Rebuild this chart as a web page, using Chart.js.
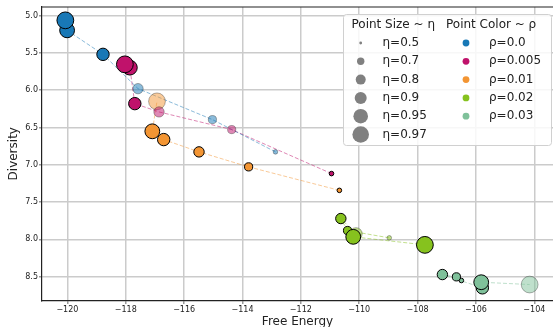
<!DOCTYPE html>
<html><head><meta charset="utf-8">
<script src="https://cdn.jsdelivr.net/npm/chart.js@4.4.1/dist/chart.umd.min.js"></script>
<style>html,body{margin:0;padding:0;background:#fff}#wrap{width:553px;height:327px}</style>
</head><body><div id="wrap"><canvas id="c" width="553" height="327"></canvas></div>
<script>
// ---- data (η ascending within each series) ----
const etaValues = [0.5, 0.7, 0.8, 0.9, 0.95, 0.97];
const rhoLabels = ['0.0', '0.005', '0.01', '0.02', '0.03'];

const rho000X = [-112.87, -115.03, -117.58, -118.78, -120.01, -120.07];
const rho000Y = [6.827, 6.394, 5.979, 5.519, 5.197, 5.063];
const rho000Faded = [1, 1, 1, 0, 0, 0];

const rho005X = [-110.95, -114.37, -116.86, -117.69, -117.86, -118.03];
const rho005Y = [7.118, 6.528, 6.291, 6.180, 5.697, 5.653];
const rho005Faded = [0, 1, 1, 0, 0, 0];

const rho010X = [-110.68, -113.79, -115.49, -116.70, -117.09, -116.93];
const rho010Y = [7.343, 7.028, 6.827, 6.662, 6.551, 6.149];
const rho010Faded = [0, 0, 0, 0, 0, 1];

const rho020X = [-108.97, -110.40, -110.63, -110.11, -110.205, -107.75];
const rho020Y = [7.980, 7.882, 7.721, 7.926, 7.966, 8.074];
const rho020Faded = [1, 0, 0, 1, 0, 0];

const rho030X = [-106.50, -106.67, -107.15, -105.78, -105.82, -104.16];
const rho030Y = [8.552, 8.503, 8.472, 8.650, 8.575, 8.606];
const rho030Faded = [0, 0, 0, 0, 0, 1];

// ---- styling ----
const colors = [[24,120,182],[192,18,107],[243,149,51],[134,194,30],[127,193,154]];
const pointRadius = {0.5: 2.3, 0.7: 4.1, 0.8: 5.2, 0.9: 6.2, 0.95: 7.4, 0.97: 8.4};
const legendRadius = {0.5: 1.4, 0.7: 3.7, 0.8: 5, 0.9: 6, 0.95: 7.3, 0.97: 8.3};
const rgba = (c, a) => `rgba(${c[0]},${c[1]},${c[2]},${a})`;

const seriesX = [rho000X, rho005X, rho010X, rho020X, rho030X];
const seriesY = [rho000Y, rho005Y, rho010Y, rho020Y, rho030Y];
const seriesF = [rho000Faded, rho005Faded, rho010Faded, rho020Faded, rho030Faded];

const datasets = [];
seriesX.forEach((xs, s) => {
  const pts = xs.map((x, i) => ({x, y: seriesY[s][i]}));
  const faded = seriesF[s];
  datasets.push({
    label: 'ρ=' + rhoLabels[s],
    data: pts,
    order: 0,
    showLine: false,
    pointRadius: etaValues.map(e => pointRadius[e]),
    pointBackgroundColor: faded.map(f => f ? rgba(colors[s], 0.5) : rgba(colors[s], 1)),
    pointBorderColor: faded.map(f => f ? 'rgba(0,0,0,0.3)' : 'rgba(0,0,0,1)'),
    pointBorderWidth: 1,
    pointHoverRadius: etaValues.map(e => pointRadius[e])
  });
  datasets.push({
    label: 'line ' + rhoLabels[s],
    data: pts,
    order: 10,
    showLine: true,
    pointRadius: 0,
    borderColor: rgba(colors[s], 0.5),
    borderWidth: 1,
    borderDash: [4, 2],
    fill: false
  });
});

const uminus = v => (v < 0 ? '\u2212' : '') + Math.abs(v);
const FONT = "'DejaVu Sans', sans-serif";

const decorPlugin = {
  id: 'decor',
  afterDraw(chart) {
    const ctx = chart.ctx, a = chart.chartArea;
    ctx.save();
    // top spine
    ctx.strokeStyle = '#222'; ctx.lineWidth = 1.2;
    ctx.beginPath(); ctx.moveTo(a.left, a.top); ctx.lineTo(a.right, a.top); ctx.stroke();
    // legend box
    const bx = 343.5, by = 14.5, bw = 208, bh = 131, r = 3;
    ctx.lineWidth = 1;
    ctx.beginPath();
    ctx.moveTo(bx + r, by); ctx.lineTo(bx + bw - r, by); ctx.quadraticCurveTo(bx + bw, by, bx + bw, by + r);
    ctx.lineTo(bx + bw, by + bh - r); ctx.quadraticCurveTo(bx + bw, by + bh, bx + bw - r, by + bh);
    ctx.lineTo(bx + r, by + bh); ctx.quadraticCurveTo(bx, by + bh, bx, by + bh - r);
    ctx.lineTo(bx, by + r); ctx.quadraticCurveTo(bx, by, bx + r, by);
    ctx.closePath();
    ctx.fillStyle = 'rgba(255,255,255,0.85)'; ctx.fill();
    ctx.strokeStyle = '#d0d0d0'; ctx.stroke();
    ctx.font = '12px ' + FONT;
    ctx.fillStyle = '#222'; ctx.textBaseline = 'middle'; ctx.textAlign = 'left';
    ctx.fillText('Point Size ~ η', 351.5, 25);
    ctx.fillText('Point Color ~ ρ', 446, 25);
    const rowY = i => 43 + i * 18.3;
    etaValues.forEach((e, i) => {
      ctx.beginPath(); ctx.arc(360.7, rowY(i), legendRadius[e], 0, Math.PI * 2);
      ctx.fillStyle = 'rgb(128,128,128)'; ctx.fill();
      ctx.fillStyle = '#222'; ctx.fillText('η=' + e, 382.5, rowY(i));
    });
    rhoLabels.forEach((l, i) => {
      ctx.beginPath(); ctx.arc(466, rowY(i), 3.4, 0, Math.PI * 2);
      ctx.fillStyle = rgba(colors[i], 1); ctx.fill();
      ctx.fillStyle = '#222'; ctx.fillText('ρ=' + l, 489, rowY(i));
    });
    ctx.restore();
  }
};

new Chart(document.getElementById('c'), {
  type: 'scatter',
  data: {datasets},
  options: {
    responsive: false,
    animation: false,
    devicePixelRatio: 1,
    layout: {autoPadding: false, padding: {top: 7, right: 0, left: 0, bottom: 0}},
    plugins: {legend: {display: false}, tooltip: {enabled: false}},
    scales: {
      x: {
        type: 'linear', min: -120.87, max: -103.36,
        afterFit: s => { s.height = 26.5; s.paddingLeft = 0; s.paddingRight = 0; },
        ticks: {stepSize: 2, includeBounds: false, autoSkip: false, maxRotation: 0,
          font: {family: FONT, size: 8}, color: '#222', padding: 1,
          callback: v => uminus(v)},
        grid: {color: '#cbcbcb', lineWidth: 1.5, tickLength: 3.5, tickColor: '#999', drawTicks: true},
        border: {display: true, color: '#222', width: 1.2},
        title: {display: true, text: 'Free Energy', color: '#222',
          font: {family: FONT, size: 12, lineHeight: 0.9}, padding: {top: 0, bottom: 0}}
      },
      y: {
        type: 'linear', min: 4.884, max: 8.82, reverse: true,
        afterFit: s => { s.width = 42; s.paddingTop = 0; s.paddingBottom = 0; },
        ticks: {stepSize: 0.5, includeBounds: false, autoSkip: false,
          font: {family: FONT, size: 8}, color: '#222', padding: 1,
          callback: v => v.toFixed(1)},
        grid: {color: '#cbcbcb', lineWidth: 1.5, tickLength: 3, tickColor: '#999', drawTicks: true},
        border: {display: true, color: '#222', width: 1.2},
        title: {display: true, text: 'Diversity', color: '#222',
          font: {family: FONT, size: 12, lineHeight: 0.9}, padding: {top: 8, bottom: 0}}
      }
    }
  },
  plugins: [decorPlugin]
});
</script>
</body></html>
